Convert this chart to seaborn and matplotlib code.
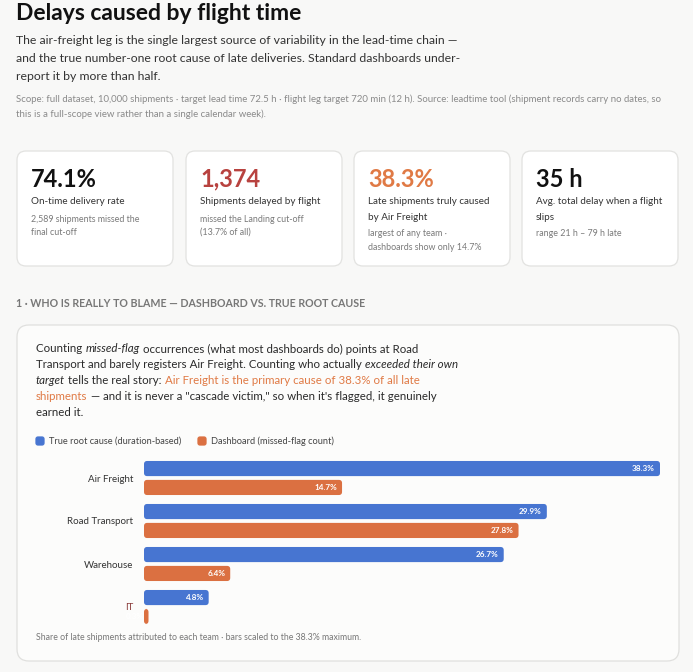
import numpy as np
import pandas as pd
import seaborn as sns
import matplotlib
matplotlib.use("Agg")
from matplotlib import pyplot as plt
from matplotlib.patches import FancyBboxPatch
import matplotlib.transforms as mtransforms

# data
teams = ["Air Freight", "Road Transport", "Warehouse", "IT"]
true_root = [38.3, 29.9, 26.7, 4.8]      # duration-based
dashboard = [14.7, 27.8, 6.4, 0.3]       # missed-flag count
series_names = ["True root cause (duration-based)", "Dashboard (missed-flag count)"]

kpi_values = ["74.1%", "1,374", "38.3%", "35 h"]
kpi_labels = [["On-time delivery rate"], ["Shipments delayed by flight"],
              ["Late shipments truly caused", "by Air Freight"],
              ["Avg. total delay when a flight", "slips"]]
kpi_subs = [["2,589 shipments missed the", "final cut-off"],
            ["missed the Landing cut-off", "(13.7% of all)"],
            ["largest of any team ·", "dashboards show only 14.7%"],
            ["range 21 h – 79 h late"]]

BLUE = "#4775d1"
ORANGE = "#db7041"
RED = "#b8423f"
ORANGE_TXT = "#e07a45"
BG = "#f8f8f7"

sns.set_theme(style="white")
plt.rcParams['font.family'] = ['Lato', 'DejaVu Sans']

W, H = 693, 672
fig = plt.figure(figsize=(W / 100, H / 100), dpi=100, facecolor=BG)

def px(x, y):
    return x / W, 1 - y / H

def txt(x, y, s, size, color="#222", weight="normal", style="normal", ha="left", **kw):
    return fig.text(*px(x, y), s, fontsize=size, color=color, fontweight=weight,
                    fontstyle=style, ha=ha, va="center", **kw)

def card(x0, y0, x1, y1, fc="white", ec="#e2e2e0", r=9, z=0):
    p = FancyBboxPatch(px(x0, y1), (x1 - x0) / W, (y1 - y0) / H,
                       boxstyle="round,pad=0,rounding_size=%f" % (r / W),
                       mutation_aspect=W / H, transform=fig.transFigure,
                       fc=fc, ec=ec, lw=0.9, zorder=z)
    fig.patches.append(p)

# header
txt(16, 14, "Delays caused by flight time", 16.5, "#111", weight="bold")
sub = ["The air-freight leg is the single largest source of variability in the lead-time chain —",
       "and the true number-one root cause of late deliveries. Standard dashboards under-",
       "report it by more than half."]
for i, s in enumerate(sub):
    txt(16, 41 + i * 17.5, s, 8.8, "#333")
scope = ["Scope: full dataset, 10,000 shipments · target lead time 72.5 h · flight leg target 720 min (12 h). Source: leadtime tool (shipment records carry no dates, so",
         "this is a full-scope view rather than a single calendar week)."]
for i, s in enumerate(scope):
    txt(16, 99 + i * 15, s, 6.95, "#8a8a8a")

# kpi cards
card_x = [17, 186, 354, 522]
num_colors = ["#111", RED, ORANGE_TXT, "#111"]
for i in range(4):
    x0 = card_x[i]
    card(x0, 151, x0 + 156, 266)
    tx = x0 + 14
    txt(tx, 179, kpi_values[i], 17, num_colors[i], weight="bold")
    y = 202
    for s in kpi_labels[i]:
        txt(tx, y, s, 7.1, "#333")
        y += 15
    y += 2
    for s in kpi_subs[i]:
        txt(tx, y, s, 6.4, "#7a7a7a")
        y += 13.5

# section header
txt(16, 304, "1 · WHO IS REALLY TO BLAME — DASHBOARD VS. TRUE ROOT CAUSE", 7.7, "#777", weight="bold")

# panel
card(17, 325, 679, 661, fc="#fcfcfb", ec="#e0e0de", r=12)

# paragraph with mixed styling
fig.canvas.draw()
renderer = fig.canvas.get_renderer()
para = [
    [("Counting ", "n"), ("missed-flag", "i"), (" occurrences (what most dashboards do) points at Road", "n")],
    [("Transport and barely registers Air Freight. Counting who actually ", "n"), ("exceeded their own", "i")],
    [("target", "i"), (" tells the real story: ", "n"), ("Air Freight is the primary cause of 38.3% of all late", "o")],
    [("shipments", "o"), (" — and it is never a \"cascade victim,\" so when it's flagged, it genuinely", "n")],
    [("earned it.", "n")],
]
for li, line in enumerate(para):
    x = 36
    y = 349 + li * 15.8
    for s, kind in line:
        t = txt(x, y, s, 8.25, ORANGE_TXT if kind == "o" else "#2a2a2a",
                style="italic" if kind == "i" else "normal")
        bb = t.get_window_extent(renderer)
        x += bb.width

# legend
for lx, col, name in [(36, BLUE, series_names[0]), (198, ORANGE, series_names[1])]:
    card(lx, 437, lx + 8, 445, fc=col, ec=col, r=2)
    txt(lx + 13, 441, name, 6.7, "#444")

# footnote
txt(36, 637, "Share of late shipments attributed to each team · bars scaled to the 38.3% maximum.", 6.3, "#777")

# bar chart
df = pd.DataFrame({
    "team": teams * 2,
    "share": true_root + dashboard,
    "series": [series_names[0]] * len(teams) + [series_names[1]] * len(teams),
})
ax = fig.add_axes([144 / W, 1 - 628.5 / H, 516 / W, 172 / H])
ax.set_zorder(5)
sns.barplot(data=df, y="team", x="share", hue="series", order=teams, hue_order=series_names,
            palette=[BLUE, ORANGE], saturation=1, width=0.88, gap=0.2, orient="h", ax=ax, legend=False)
ax.set_xlim(0, max(true_root))
ax.set_ylim(3.5, -0.5)
ax.set_facecolor("none")
for s in ax.spines.values():
    s.set_visible(False)
ax.set_xticks([])
ax.set_xlabel("")
ax.set_ylabel("")
ax.tick_params(axis="y", length=0, pad=8)
for lab in ax.get_yticklabels():
    lab.set_fontsize(7.0)
    lab.set_color("#8a3b3b" if lab.get_text() == "IT" else "#333")

# rounded bars
xpx = 516 / max(true_root)
ypx = 43.0
rects = [p for p in ax.patches]
for p in rects:
    x0, y0 = p.get_x(), p.get_y()
    w, h = p.get_width(), p.get_height()
    w = max(w, 4.5 / xpx)
    rb = FancyBboxPatch((x0, y0), w, h,
                        boxstyle="round,pad=0,rounding_size=%f" % (3.2 / xpx),
                        mutation_aspect=xpx / ypx, fc=p.get_facecolor(), ec="none")
    p.set_visible(False)
    ax.add_patch(rb)
    val = p.get_width()
    tr = mtransforms.offset_copy(ax.transData, fig=fig, x=-5, y=0, units="dots")
    ax.text(x0 + w, y0 + h / 2, "%.1f%%" % val, transform=tr, ha="right", va="center",
            fontsize=5.9, color="white", fontweight="bold")

fig.savefig("out.png", dpi=100, facecolor=BG)
